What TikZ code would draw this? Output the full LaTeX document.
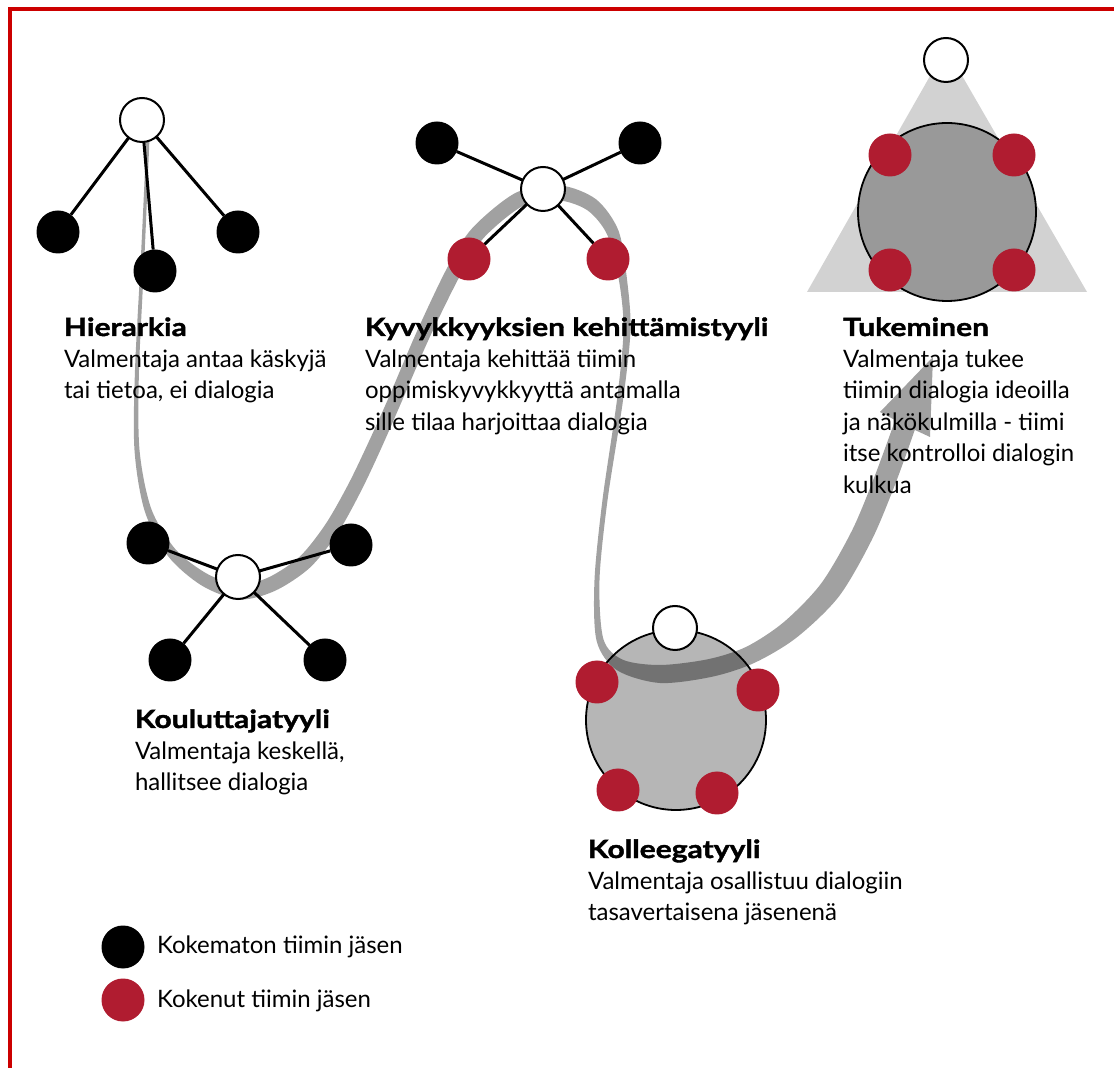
\documentclass[tikz,border=0pt]{standalone}
\usepackage{fontspec}
\setmainfont{Lato}
\newfontfamily\headfont{Lato}[FakeStretch=1.2, BoldFeatures={FakeBold=1.6}]
\definecolor{crimson}{RGB}{176,28,48}
\definecolor{framered}{RGB}{204,0,0}
\definecolor{trigray}{RGB}{210,210,210}
\definecolor{darkdisc}{RGB}{153,153,153}
\definecolor{lightdisc}{RGB}{182,182,182}
\newcommand{\heading}[1]{{\headfont\bfseries\fontsize{12.5}{15.75}\selectfont #1}}
\begin{document}
\begin{tikzpicture}[x=0.5pt,y=-0.5pt,
  every node/.style={inner sep=0pt, outer sep=0pt},
  wnode/.style={circle, draw=black, line width=1pt, fill=white, minimum size=22pt},
  bnode/.style={circle, fill=black, minimum size=21.5pt},
  rnode/.style={circle, fill=crimson, minimum size=21.5pt},
  link/.style={line width=1.5pt},
  txt/.style={anchor=base west, font=\fontsize{12}{15.75}\selectfont},
  legendtxt/.style={anchor=base west, font=\fontsize{12}{15.75}\selectfont},
]
% canvas
\useasboundingbox (0,0) rectangle (1114,1068);
\fill[white] (0,0) rectangle (1114,1068);

% frame (top and left edges)
\draw[framered, line width=2pt] (10,1068) -- (10,9) -- (1114,9);

% background shapes of the two round groups
\fill[trigray] (807,292) -- (946,48) -- (1087,292) -- cycle;
\filldraw[fill=darkdisc, draw=black, line width=0.9pt] (947,212) circle[radius=89];
\filldraw[fill=lightdisc, draw=black, line width=0.9pt] (676,720) circle[radius=90];

% path ribbon with arrow head
\fill[black, fill opacity=0.37]
  plot[smooth, tension=0.5] coordinates {
  (146.5,138) (141.25,250) (135,370) (134.5,450.2) (144.7,511.1) (168.1,556.2)
  (201.8,585.6) (239.55,599.5) (275.1,590.8) (310.1,567.5) (338.2,532.2)
  (361.4,490.3) (381.4,447.9) (401.2,402.7) (429.4,337.9) (460.6,274.6)
  (483.5,238.1) (523.3,205.7) (559.4,200.5) (587.8,210.6) (607.5,235.3)
  (619,280.6) (623.5,329.9) (617,399.6) (602.5,499.7) (594.5,580)
  (596.6,640.9) (617,670.2) (659.7,683) (711.9,676.8) (753.9,663.1)
  (796.3,637.8) (838.8,596.6) (871.8,539.9) (895.3,483.9) (914.8,429.9)}
  -- (930,437) -- (933,357) -- (880,412) --
  plot[smooth, tension=0.5] coordinates {
  (895.2,420.1) (874.7,476.1) (852.2,530.1) (821.2,583.4) (783.7,622.2)
  (746.1,646.9) (708.1,659.2) (660.3,665) (623,659.8) (603.4,639.1)
  (599.5,580) (607.5,500.3) (623,400.4) (630.5,330.1) (627,279.4)
  (618.5,230.7) (596.2,199.4) (560.6,185.5) (516.7,192.3) (472.5,227.9)
  (447.4,267.4) (416.6,332.1) (388.8,397.3) (368.6,442.1) (348.6,483.7)
  (325.8,523.8) (299.9,556.5) (268.9,577.2) (240.45,584.5) (208.2,574.4)
  (175.9,549.8) (151.3,508.9) (139.5,449.8) (139,370) (144.75,250) (149.5,138)}
  -- cycle;

% Hierarkia
\node[wnode] (h0) at (142,120) {};
\node[bnode] (h1) at (58,232) {};
\node[bnode] (h2) at (155,271) {};
\node[bnode] (h3) at (238,232) {};
\foreach \n in {h1,h2,h3} \draw[link] (h0) -- (\n);

% Kouluttajatyyli
\node[wnode] (k0) at (238,577) {};
\node[bnode] (k1) at (148,543) {};
\node[bnode] (k2) at (351,545) {};
\node[bnode] (k3) at (170,660) {};
\node[bnode] (k4) at (325,660) {};
\foreach \n in {k1,k2,k3,k4} \draw[link] (k0) -- (\n);

% Kyvykkyyksien kehittamistyyli
\node[wnode] (v0) at (543,189) {};
\node[bnode] (v1) at (437,143) {};
\node[bnode] (v2) at (640,143) {};
\node[rnode] (v3) at (469,259) {};
\node[rnode] (v4) at (608,259) {};
\foreach \n in {v1,v2,v3,v4} \draw[link] (v0) -- (\n);

% Kolleegatyyli
\node[wnode] (c0) at (675,628) {};
\node[rnode] (c1) at (597,682) {};
\node[rnode] (c2) at (758,690) {};
\node[rnode] (c3) at (618,790) {};
\node[rnode] (c4) at (717,793) {};

% Tukeminen
\node[wnode] (t0) at (946,60) {};
\node[rnode] (t1) at (890,155) {};
\node[rnode] (t2) at (1014,155) {};
\node[rnode] (t3) at (890,270) {};
\node[rnode] (t4) at (1014,270) {};

% captions
\node[txt] (lh) at (64,336) {\begin{tabular}[t]{@{}l@{}}\heading{Hierarkia}\\
  Valmentaja antaa käskyjä\\ tai tietoa, ei dialogia\end{tabular}};
\node[txt] (lv) at (365,336) {\begin{tabular}[t]{@{}l@{}}\heading{Kyvykkyyksien kehittämistyyli}\\
  Valmentaja kehittää tiimin\\ oppimiskyvykkyyttä antamalla\\ sille tilaa harjoittaa dialogia\end{tabular}};
\node[txt] (lt) at (843,336) {\begin{tabular}[t]{@{}l@{}}\heading{Tukeminen}\\
  Valmentaja tukee\\ tiimin dialogia ideoilla\\ ja näkökulmilla - tiimi\\ itse kontrolloi dialogin\\ kulkua\end{tabular}};
\node[txt] (lk) at (135,728) {\begin{tabular}[t]{@{}l@{}}\heading{Kouluttajatyyli}\\
  Valmentaja keskellä,\\ hallitsee dialogia\end{tabular}};
\node[txt] (lc) at (588,858) {\begin{tabular}[t]{@{}l@{}}\heading{Kolleegatyyli}\\
  Valmentaja osallistuu dialogiin\\ tasavertaisena jäsenenä\end{tabular}};

% legend
\node[bnode] (gb) at (123,947) {};
\node[rnode] (gr) at (123,1000) {};
\node[legendtxt] (gbt) at (157,953) {Kokematon tiimin jäsen};
\node[legendtxt] (grt) at (157,1007) {Kokenut tiimin jäsen};
\end{tikzpicture}
\end{document}
